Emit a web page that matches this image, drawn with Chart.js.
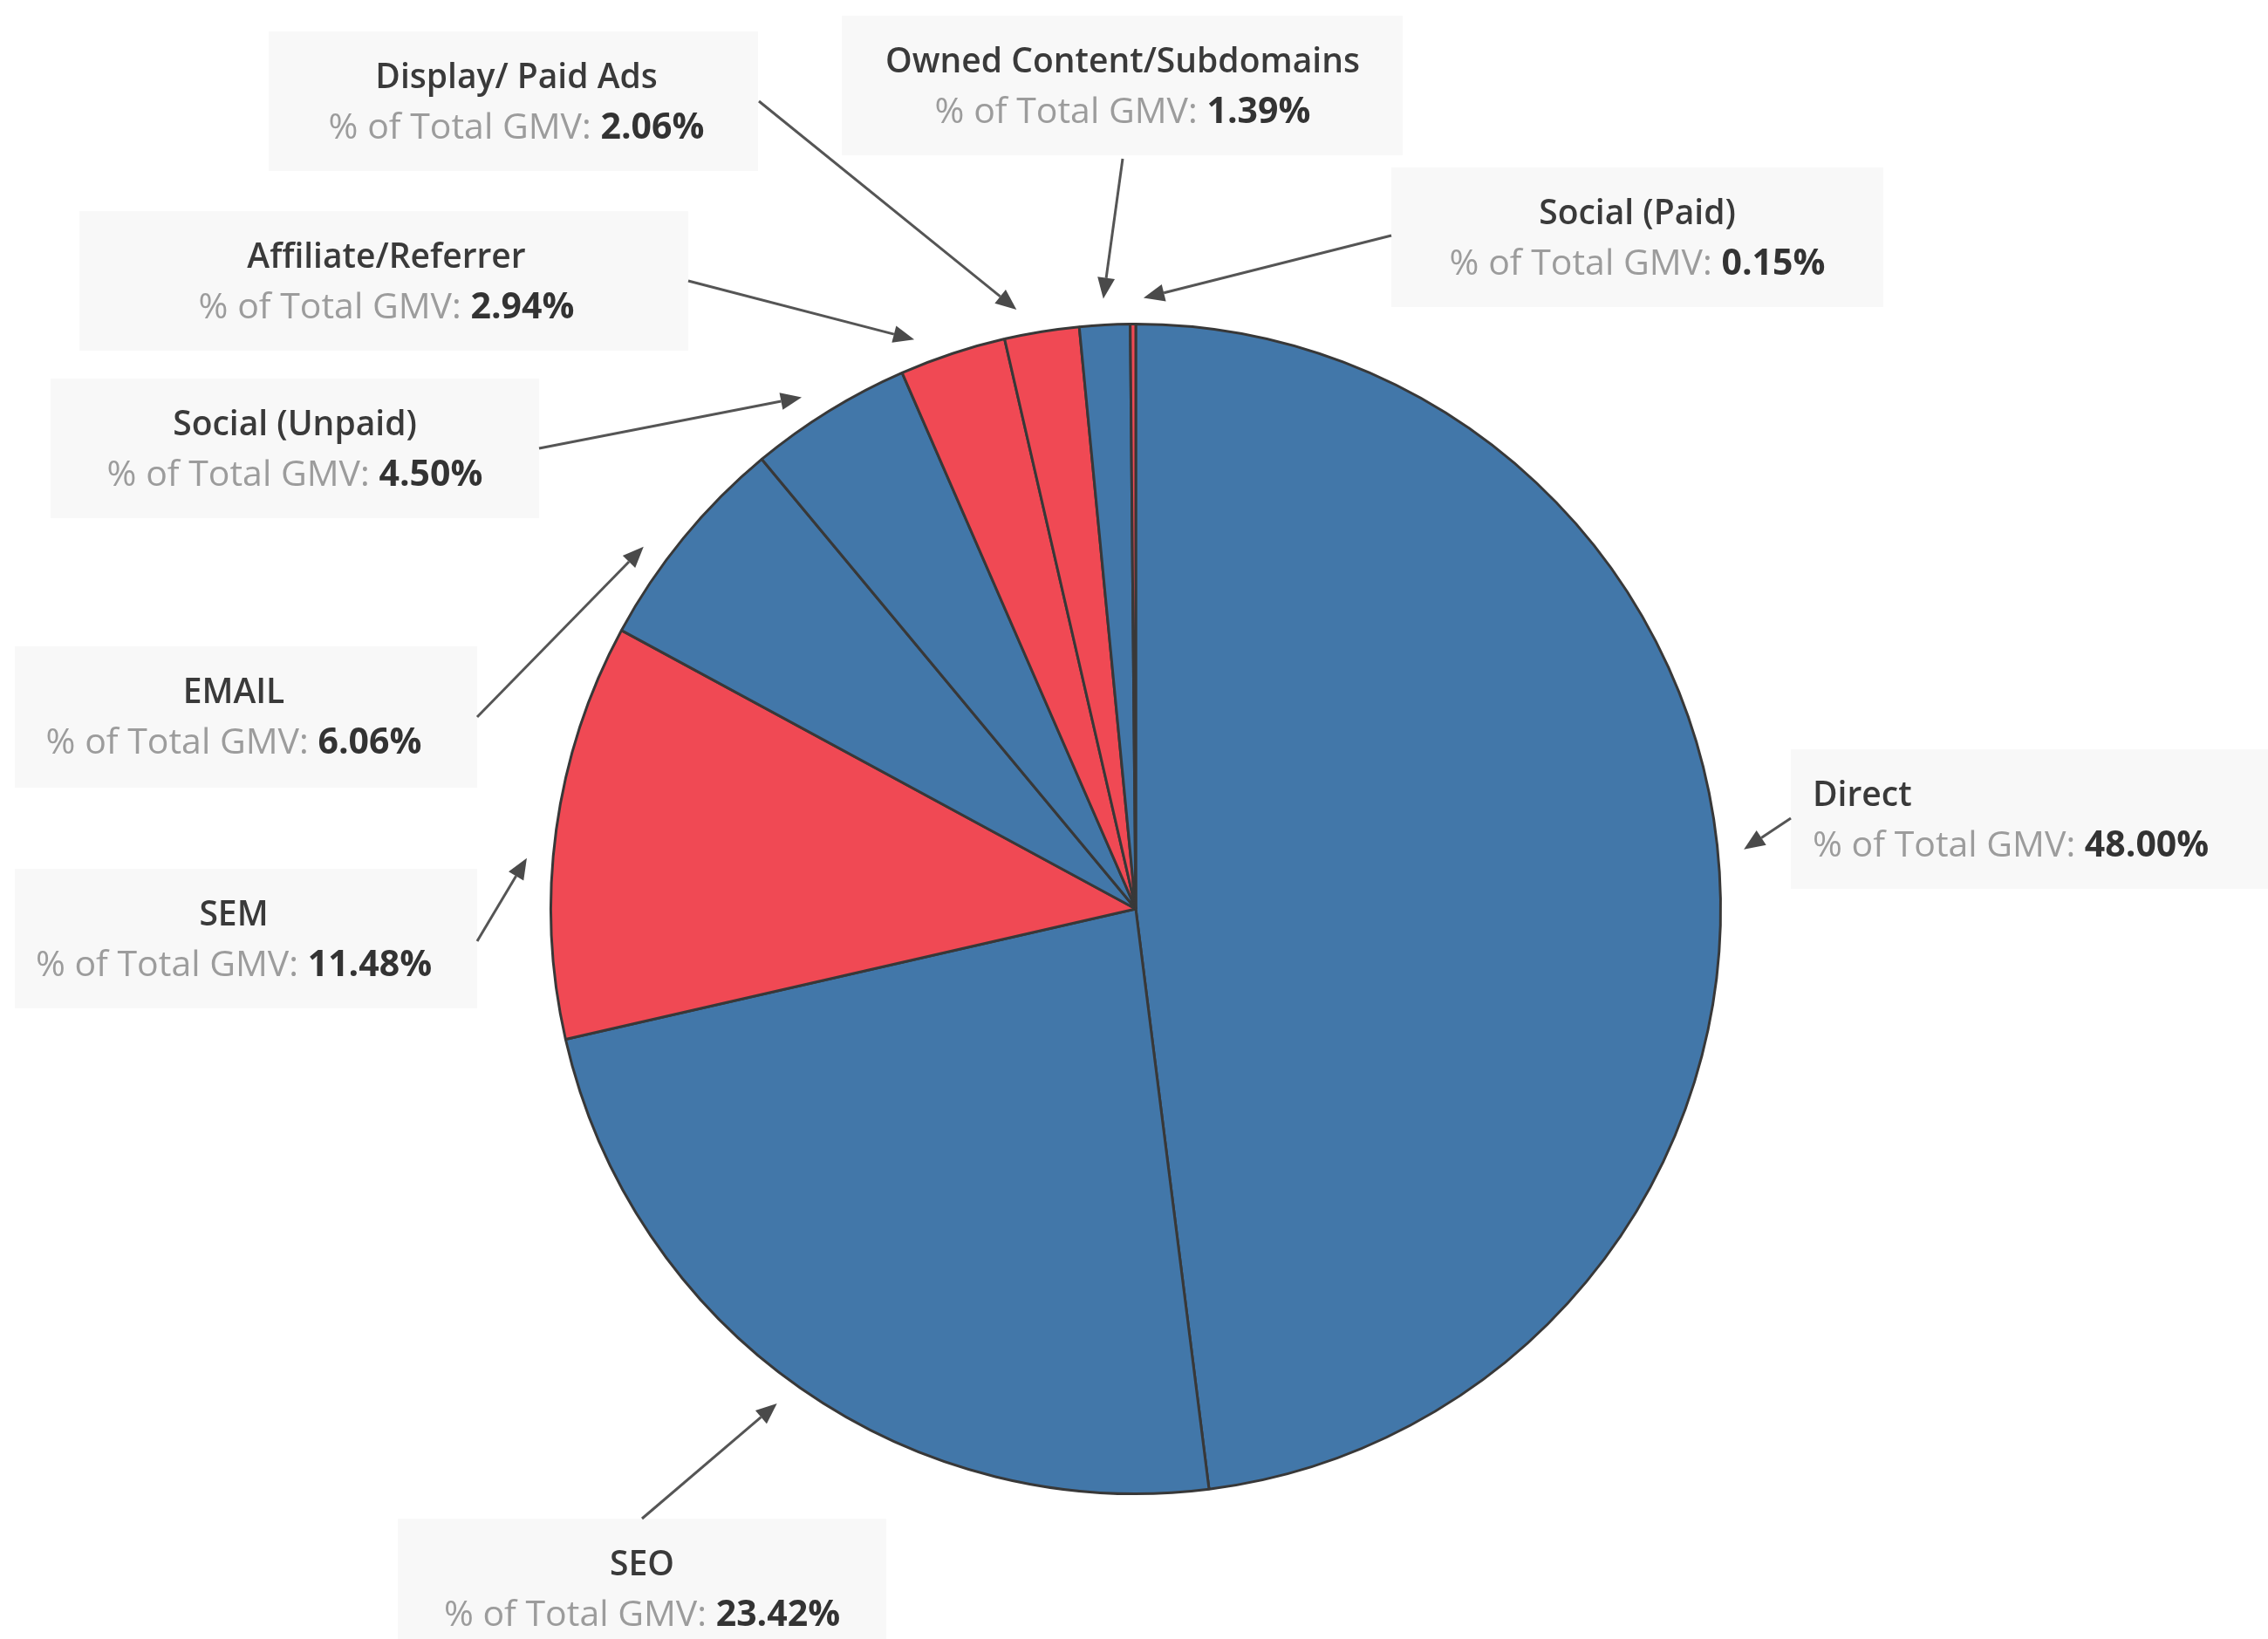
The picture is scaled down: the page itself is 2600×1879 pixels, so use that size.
<!DOCTYPE html>
<html>
<head>
<meta charset="utf-8">
<title>% of Total GMV by Channel</title>
<script src="https://cdn.jsdelivr.net/npm/chart.js@4.4.1/dist/chart.umd.min.js"></script>
<style>
  html, body { margin: 0; padding: 0; background: #fff; }
  #wrap { width: 2600px; height: 1879px; }
</style>
</head>
<body>
<div id="wrap"><canvas id="gmvPie" width="2600" height="1879"></canvas></div>
<script>
// channels, clockwise from 12 o'clock
const channels = ['Direct', 'SEO', 'SEM', 'EMAIL', 'Social (Unpaid)', 'Affiliate/Referrer', 'Display/ Paid Ads', 'Owned Content/Subdomains', 'Social (Paid)'];
const gmvShare = [48.00, 23.42, 11.48, 6.06, 4.50, 2.94, 2.06, 1.39, 0.15];
const paidChannel = [false, false, true, false, false, true, true, false, true];

const BLUE = '#4277a9';
const RED = '#f04954';

// callout boxes: [x, y, w, h], text anchor x, arrow start, small angle nudge (deg) for the tip
const callouts = [
  { box: [2053, 859, 547, 160], tx: 2078, align: 'left', from: [2053, 938], nudge: -2 },
  { box: [456, 1741, 560, 160], tx: 736, align: 'center', from: [736, 1741], nudge: 1 },
  { box: [17, 996, 530, 160], tx: 268, align: 'center', from: [547, 1079], nudge: -3 },
  { box: [17, 741, 530, 162], tx: 268, align: 'center', from: [547, 822], nudge: -3 },
  { box: [58, 434, 560, 160], tx: 338, align: 'center', from: [618, 514], nudge: -1.5 },
  { box: [91, 242, 698, 160], tx: 443, align: 'center', from: [789, 322], nudge: -3 },
  { box: [308, 36, 561, 160], tx: 592, align: 'center', from: [870, 116], nudge: -2 },
  { box: [965, 18, 643, 160], tx: 1287, align: 'center', from: [1287, 182], nudge: 0 },
  { box: [1595, 192, 564, 160], tx: 1877, align: 'center', from: [1595, 270], nudge: 1 }
];

const FONT = '"Open Sans", "Noto Sans", sans-serif';
const TITLE_FONT = '600 39px ' + FONT;
const PRE_FONT = '41px ' + FONT;
const VAL_FONT = '700 41px ' + FONT;

function drawArrow(ctx, x0, y0, x1, y1) {
  const ang = Math.atan2(y1 - y0, x1 - x0);
  const head = 24, half = 10;
  const bx = x1 - head * Math.cos(ang), by = y1 - head * Math.sin(ang);
  ctx.strokeStyle = '#555';
  ctx.lineWidth = 3;
  ctx.beginPath();
  ctx.moveTo(x0, y0);
  ctx.lineTo(bx, by);
  ctx.stroke();
  ctx.fillStyle = '#4a4a4a';
  ctx.beginPath();
  ctx.moveTo(x1, y1);
  ctx.lineTo(bx + half * Math.sin(ang), by - half * Math.cos(ang));
  ctx.lineTo(bx - half * Math.sin(ang), by + half * Math.cos(ang));
  ctx.closePath();
  ctx.fill();
}

const calloutPlugin = {
  id: 'callouts',
  afterDatasetsDraw(chart) {
    const ctx = chart.ctx;
    const arcs = chart.getDatasetMeta(0).data;
    ctx.save();
    callouts.forEach((c, i) => {
      const [bx, by, bw, bh] = c.box;
      ctx.fillStyle = '#f8f8f8';
      ctx.fillRect(bx, by, bw, bh);

      const titleY = by + 54, valueY = by + 111;
      ctx.textBaseline = 'middle';

      // channel name
      ctx.font = TITLE_FONT;
      ctx.fillStyle = '#3a3a3a';
      ctx.textAlign = c.align;
      ctx.fillText(channels[i], c.tx, titleY);

      // "% of Total GMV: xx.xx%"
      const pre = '% of Total GMV: ';
      const val = gmvShare[i].toFixed(2) + '%';
      ctx.font = PRE_FONT;
      const wPre = ctx.measureText(pre).width;
      ctx.font = VAL_FONT;
      const wVal = ctx.measureText(val).width;
      const x = c.align === 'left' ? c.tx : c.tx - (wPre + wVal) / 2;
      ctx.textAlign = 'left';
      ctx.font = PRE_FONT;
      ctx.fillStyle = '#9c9c9c';
      ctx.fillText(pre, x, valueY);
      ctx.font = VAL_FONT;
      ctx.fillStyle = '#333';
      ctx.fillText(val, x + wPre, valueY);

      // arrow to the slice
      const a = arcs[i];
      const mid = (a.startAngle + a.endAngle) / 2 + c.nudge * Math.PI / 180;
      const r = a.outerRadius + 30;
      drawArrow(ctx, c.from[0], c.from[1], a.x + r * Math.cos(mid), a.y + r * Math.sin(mid));
    });
    ctx.restore();
  }
};

new Chart(document.getElementById('gmvPie'), {
  type: 'pie',
  data: {
    labels: channels,
    datasets: [{
      label: '% of Total GMV',
      data: gmvShare,
      backgroundColor: paidChannel.map(p => p ? RED : BLUE),
      borderColor: '#383838',
      borderWidth: 3
    }]
  },
  options: {
    responsive: false,
    animation: false,
    layout: {
      padding: { left: 630, right: 626, top: 370, bottom: 165 }
    },
    plugins: {
      legend: { display: false },
      tooltip: { enabled: false }
    }
  },
  plugins: [calloutPlugin]
});
</script>
</body>
</html>
